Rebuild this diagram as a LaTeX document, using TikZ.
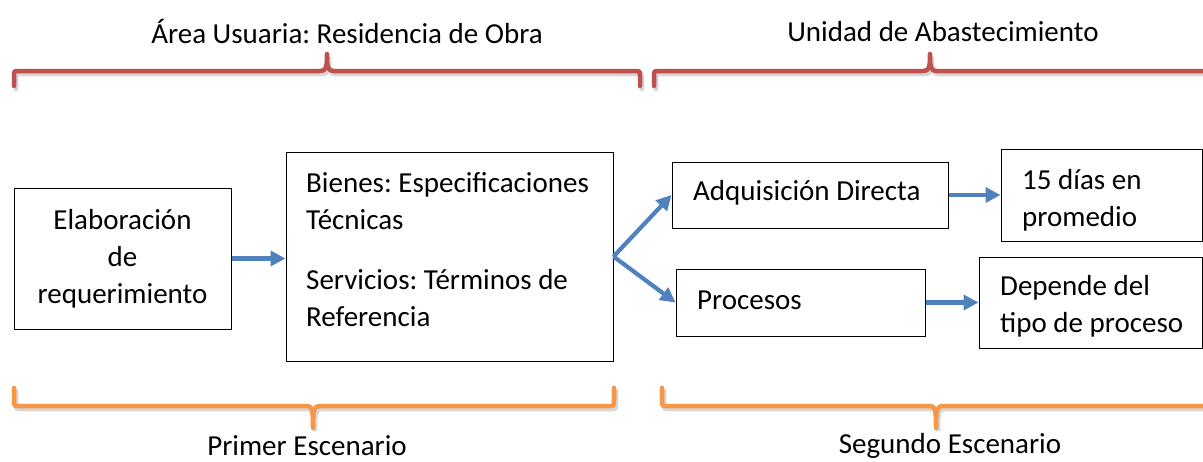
\documentclass[tikz,border=0pt]{standalone}
\usepackage{fontspec}
\setmainfont{Carlito}
\usetikzlibrary{arrows.meta}
\definecolor{bracered}{HTML}{C0504D}
\definecolor{braceorange}{HTML}{F79646}
\definecolor{arrowblue}{HTML}{4F81BD}
\tikzset{
  box/.style={draw=black, line width=1pt, fill=white, inner sep=0pt},
  txt/.style={inner sep=0pt, font=\fontsize{29}{37}\selectfont},
  flow/.style={draw=arrowblue, line width=4.2pt, -{Triangle[length=15pt,width=15pt]}},
  brace/.style={line width=4.5pt, line cap=round, line join=round},
  shadowline/.style={line width=4.5pt, draw=black!16, line cap=round}
}
\begin{document}
\frenchspacing
\begin{tikzpicture}[x=1pt,y=-1pt]
\useasboundingbox (0,0) rectangle (1203,461);
% braces shadows
\begin{scope}[shift={(2,3)}]
\draw[shadowline] (14,86) -- (14,76) .. controls (14,71) .. (19,71) -- (320,71) .. controls (326,71) and (327,68) .. (327,54) .. controls (327,68) and (328,71) .. (334,71) -- (635,71) .. controls (640,71) .. (640,76) -- (640,86);
\draw[shadowline] (654,86) -- (654,76) .. controls (654,71) .. (659,71) -- (923,71) .. controls (929,71) and (930,68) .. (930,54) .. controls (930,68) and (931,71) .. (937,71) -- (1210,71);
\draw[shadowline] (14,388) -- (14,400) .. controls (14,406) .. (19,406) -- (307,406) .. controls (312,406) and (313,409) .. (313,428) .. controls (313,409) and (314,406) .. (320,406) -- (609,406) .. controls (614,406) .. (614,400) -- (614,388);
\draw[shadowline] (662,388) -- (662,400) .. controls (662,406) .. (667,406) -- (930,406) .. controls (935,406) and (936,409) .. (936,428) .. controls (936,409) and (937,406) .. (943,406) -- (1210,406);
\end{scope}
% red braces (top)
\draw[brace, bracered] (14,86) -- (14,76) .. controls (14,71) .. (19,71) -- (320,71) .. controls (326,71) and (327,68) .. (327,54) .. controls (327,68) and (328,71) .. (334,71) -- (635,71) .. controls (640,71) .. (640,76) -- (640,86);
\draw[brace, bracered] (654,86) -- (654,76) .. controls (654,71) .. (659,71) -- (923,71) .. controls (929,71) and (930,68) .. (930,54) .. controls (930,68) and (931,71) .. (937,71) -- (1210,71);
% orange braces (bottom)
\draw[brace, braceorange] (14,388) -- (14,400) .. controls (14,406) .. (19,406) -- (307,406) .. controls (312,406) and (313,409) .. (313,428) .. controls (313,409) and (314,406) .. (320,406) -- (609,406) .. controls (614,406) .. (614,400) -- (614,388);
\draw[brace, braceorange] (662,388) -- (662,400) .. controls (662,406) .. (667,406) -- (930,406) .. controls (935,406) and (936,409) .. (936,428) .. controls (936,409) and (937,406) .. (943,406) -- (1210,406);
% titles
\node[txt] (t1) at (347,32) {Área Usuaria: Residencia de Obra};
\node[txt] (t2) at (943,32) {Unidad de Abastecimiento};
\node[txt] (t3) at (307,446) {Primer Escenario};
\node[txt] (t4) at (950,446) {Segundo Escenario};
% boxes
\node[box, minimum width=217pt, minimum height=141pt] (elab) at (122.5,258.5) {};
\node[box, minimum width=327pt, minimum height=209pt] (bien) at (449.5,256.5) {};
\node[box, minimum width=276pt, minimum height=66pt] (adq) at (810,195) {};
\node[box, minimum width=249pt, minimum height=67pt] (proc) at (800.5,302.5) {};
\node[box, minimum width=201pt, minimum height=92pt] (dias) at (1101.5,195) {};
\node[box, minimum width=223pt, minimum height=91pt] (dep) at (1090.5,302.5) {};
% texts
\node[txt, align=center] (elabtxt) at (122.5,258.5) {Elaboración\\de\\requerimiento};
\node[txt, align=left, anchor=west] (bientxt1) at (306,201) {Bienes: Especificaciones\\Técnicas};
\node[txt, align=left, anchor=west] (bientxt2) at (306,298.5) {Servicios: Términos de\\Referencia};
\node[txt, anchor=west] (adqtxt) at (693,193) {Adquisición Directa};
\node[txt, anchor=west] (proctxt) at (697,300) {Procesos};
\node[txt, align=left, anchor=west] (diastxt) at (1022,200) {15 días en\\promedio};
\node[txt, align=left, anchor=west] (deptxt) at (1000,306) {Depende del\\tipo de proceso};
% connectors
\draw[flow] (elab.east) -- (elab.east -| bien.west);
\draw[flow] (bien.east) -- (adq.west);
\draw[flow] (bien.east) -- (proc.west);
\draw[flow] (adq.east) -- (dias.west);
\draw[flow] (proc.east) -- (dep.west);
\end{tikzpicture}
\end{document}
